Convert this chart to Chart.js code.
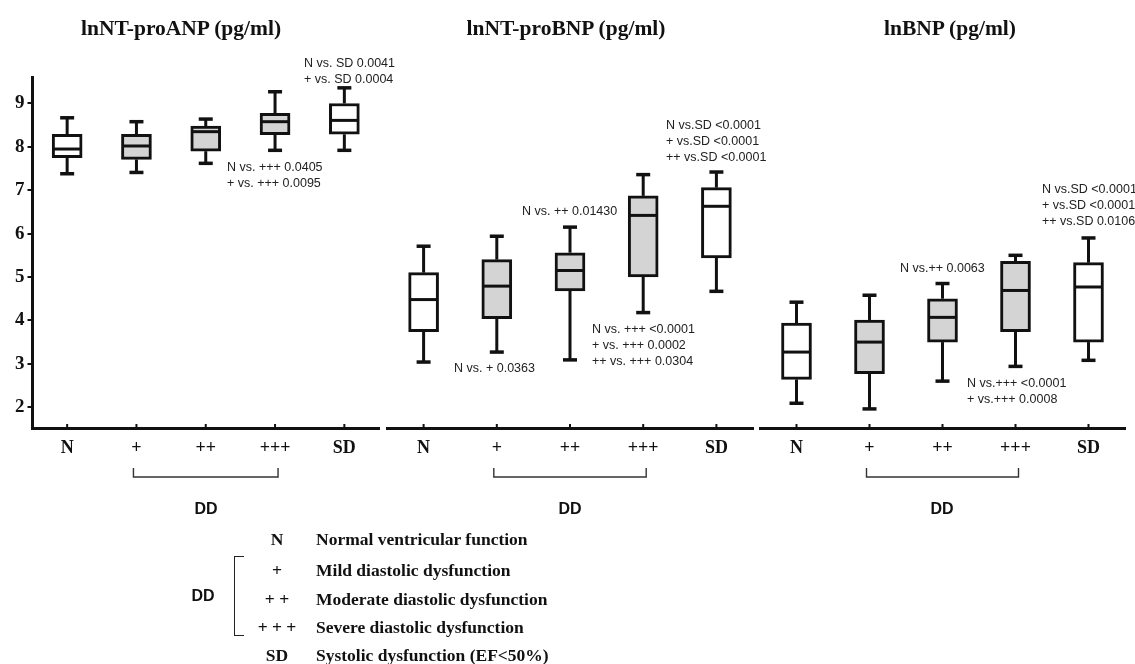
<!DOCTYPE html>
<html>
<head>
<meta charset="utf-8">
<script src="https://cdn.jsdelivr.net/npm/chart.js@4.4.0/dist/chart.umd.min.js"></script>
<style>
  body { margin: 0; width: 1135px; height: 664px; overflow: hidden; background: #fff; position: relative; }
  canvas { position: absolute; top: 0; }
  .title { position: absolute; top: 16px; font: bold 21.5px 'Liberation Serif', serif; color: #111; transform: translateX(-50%); white-space: nowrap; }
  .note { position: absolute; font: 12.5px 'Liberation Sans', Arial, sans-serif; color: #222; white-space: pre; line-height: 16px; }
  .dd { position: absolute; font: bold 16px 'Liberation Sans', Arial, sans-serif; color: #111; transform: translate(-50%, -50%); }
  .sym { position: absolute; left: 257px; width: 40px; text-align: center; font: bold 17.5px 'Liberation Serif', serif; color: #111; transform: translateY(-50%); }
  .desc { position: absolute; left: 316px; font: bold 17.5px 'Liberation Serif', serif; color: #111; transform: translateY(-50%); white-space: nowrap; }
  .brk { position: absolute; left: 234px; top: 556px; width: 9px; height: 78px; border: 1.5px solid #222; border-right: none; }
</style>
</head>
<body>
<canvas id="c1" width="383" height="530" style="left:0px"></canvas>
<canvas id="c2" width="375" height="530" style="left:383px"></canvas>
<canvas id="c3" width="377" height="530" style="left:758px"></canvas>

<div class="title" style="left:181px">lnNT-proANP (pg/ml)</div>
<div class="title" style="left:566px">lnNT-proBNP (pg/ml)</div>
<div class="title" style="left:950px">lnBNP (pg/ml)</div>

<div class="note" style="left:304px; top:55px">N vs. SD 0.0041
+ vs. SD 0.0004</div>
<div class="note" style="left:227px; top:159px">N vs. +++ 0.0405
+ vs. +++ 0.0095</div>

<div class="note" style="left:666px; top:117px">N vs.SD &lt;0.0001
+ vs.SD &lt;0.0001
++ vs.SD &lt;0.0001</div>
<div class="note" style="left:522px; top:203px">N vs. ++ 0.01430</div>
<div class="note" style="left:592px; top:321px">N vs. +++ &lt;0.0001
+ vs. +++ 0.0002
++ vs. +++ 0.0304</div>
<div class="note" style="left:454px; top:360px">N vs. + 0.0363</div>

<div class="note" style="left:1042px; top:181px">N vs.SD &lt;0.0001
+ vs.SD &lt;0.0001
++ vs.SD 0.0106</div>
<div class="note" style="left:900px; top:260px">N vs.++ 0.0063</div>
<div class="note" style="left:967px; top:375px">N vs.+++ &lt;0.0001
+ vs.+++ 0.0008</div>

<div class="dd" style="left:206px; top:509px">DD</div>
<div class="dd" style="left:570px; top:509px">DD</div>
<div class="dd" style="left:942px; top:509px">DD</div>

<div class="sym" style="top:539px">N</div>
<div class="desc" style="top:539px">Normal ventricular function</div>
<div class="sym" style="top:570px">+</div>
<div class="desc" style="top:570px">Mild diastolic dysfunction</div>
<div class="sym" style="top:599px">+ +</div>
<div class="desc" style="top:599px">Moderate diastolic dysfunction</div>
<div class="sym" style="top:627px">+ + +</div>
<div class="desc" style="top:627px">Severe diastolic dysfunction</div>
<div class="sym" style="top:655px">SD</div>
<div class="desc" style="top:655px">Systolic dysfunction (EF&lt;50%)</div>
<div class="brk"></div>
<div class="dd" style="left:203px; top:596px">DD</div>

<script>
const groups = ['N', '+', '++', '+++', 'SD'];
const yTicks = [2, 3, 4, 5, 6, 7, 8, 9];

// lnNT-proANP
const anpMin = [7.38, 7.41, 7.62, 7.92, 7.92];
const anpQ1  = [7.75, 7.71, 7.90, 8.28, 8.29];
const anpMed = [7.95, 8.02, 8.35, 8.58, 8.61];
const anpQ3  = [8.29, 8.29, 8.48, 8.77, 9.00];
const anpMax = [8.67, 8.58, 8.64, 9.27, 9.36];

// lnNT-proBNP
const bnpNtMin = [3.04, 3.27, 3.09, 4.18, 4.67];
const bnpNtQ1  = [3.74, 4.04, 4.68, 5.00, 5.44];
const bnpNtMed = [4.48, 4.79, 5.15, 6.42, 6.63];
const bnpNtQ3  = [5.10, 5.40, 5.56, 6.87, 7.06];
const bnpNtMax = [5.71, 5.94, 6.15, 7.36, 7.42];

// lnBNP
const bnpMin = [2.09, 1.96, 2.60, 2.94, 3.08];
const bnpQ1  = [2.64, 2.77, 3.50, 3.74, 3.50];
const bnpMed = [3.27, 3.50, 4.07, 4.69, 4.77];
const bnpQ3  = [3.94, 4.01, 4.50, 5.36, 5.33];
const bnpMax = [4.42, 4.58, 4.85, 5.50, 5.90];

const fills = ['#ffffff', '#d4d4d4', '#d4d4d4', '#d4d4d4', '#ffffff'];
const ink = '#111';

function boxPlugin(min, q1, med, q3, max) {
  return {
    id: 'boxExtras',
    afterDatasetsDraw(chart) {
      const { ctx, scales: { x, y } } = chart;
      const line = (x1, y1, x2, y2) => { ctx.beginPath(); ctx.moveTo(x1, y1); ctx.lineTo(x2, y2); ctx.stroke(); };
      ctx.save();
      ctx.strokeStyle = ink;
      groups.forEach((g, i) => {
        const px = x.getPixelForValue(i);
        ctx.lineWidth = 3;
        line(px, y.getPixelForValue(max[i]), px, y.getPixelForValue(q3[i]));
        line(px, y.getPixelForValue(q1[i]), px, y.getPixelForValue(min[i]));
        ctx.lineWidth = 3.5;
        line(px - 7, y.getPixelForValue(max[i]), px + 7, y.getPixelForValue(max[i]));
        line(px - 7, y.getPixelForValue(min[i]), px + 7, y.getPixelForValue(min[i]));
        ctx.lineWidth = 3;
        line(px - 14, y.getPixelForValue(med[i]), px + 14, y.getPixelForValue(med[i]));
        // small inner tick on the x axis
        ctx.lineWidth = 2;
        line(px, chart.chartArea.bottom, px, chart.chartArea.bottom - 4);
      });
      // DD bracket under +, ++, +++
      const bx1 = x.getPixelForValue(1) - 3, bx2 = x.getPixelForValue(3) + 3;
      ctx.lineWidth = 1.4;
      ctx.strokeStyle = '#333';
      ctx.beginPath();
      ctx.moveTo(bx1, 468); ctx.lineTo(bx1, 477); ctx.lineTo(bx2, 477); ctx.lineTo(bx2, 468);
      ctx.stroke();
      ctx.restore();
    }
  };
}

function makePanel(id, min, q1, med, q3, max, showY, pad) {
  new Chart(document.getElementById(id), {
    type: 'bar',
    data: {
      labels: groups,
      datasets: [{
        data: q1.map((v, i) => [v, q3[i]]),
        backgroundColor: fills,
        borderColor: ink,
        borderWidth: 3,
        borderSkipped: false,
        barThickness: 30
      }]
    },
    options: {
      responsive: false,
      animation: false,
      layout: { padding: pad },
      plugins: { legend: { display: false }, tooltip: { enabled: false } },
      scales: {
        x: {
          offset: true,
          grid: { display: false, drawTicks: false },
          border: { display: true, width: 3, color: ink },
          ticks: { color: ink, padding: 10, font: { family: 'Liberation Serif', size: 18, weight: 'bold' } },
          afterFit: s => { s.height = 102; }
        },
        y: {
          display: showY,
          min: 1.52,
          max: 9.61,
          afterBuildTicks: s => { s.ticks = yTicks.map(v => ({ value: v })); },
          grid: { drawOnChartArea: false, drawTicks: true, tickLength: 5, lineWidth: 2, color: ink },
          border: { display: true, width: 3, color: ink },
          ticks: { color: ink, padding: 3, font: { family: 'Liberation Serif', size: 19, weight: 'bold' } },
          afterFit: s => { s.width = showY ? 32.5 : 0; }
        }
      }
    },
    plugins: [boxPlugin(min, q1, med, q3, max)]
  });
}

makePanel('c1', anpMin, anpQ1, anpMed, anpQ3, anpMax, true, { top: 77, left: 0, right: 4, bottom: 0 });
makePanel('c2', bnpNtMin, bnpNtQ1, bnpNtMed, bnpNtQ3, bnpNtMax, false, { top: 77, left: 4, right: 5, bottom: 0 });
makePanel('c3', bnpMin, bnpQ1, bnpMed, bnpQ3, bnpMax, false, { top: 77, left: 2, right: 10, bottom: 0 });
</script>
</body>
</html>
